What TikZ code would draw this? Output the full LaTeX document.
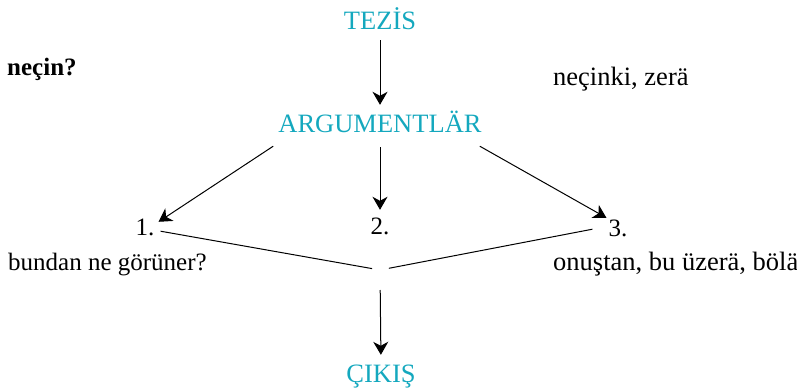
\documentclass[tikz,border=0pt]{standalone}
\usepackage{fontspec}
\setmainfont{Liberation Serif}
\usetikzlibrary{arrows.meta}
\definecolor{tealblue}{RGB}{20,168,190}

\begin{document}
\begin{tikzpicture}[
    x=1pt, y=-1pt,
    every node/.style={inner sep=0pt, text height=17pt, text depth=0pt,
        font=\fontsize{25}{30}\selectfont},
    head/.style={text=tealblue, anchor=base, font=\fontsize{26.5}{32}\selectfont},
    num/.style={anchor=base},
    note/.style={anchor=base west},
    arrow/.style={-{Stealth[length=13pt, width=15pt, inset=4pt]}, line width=1pt},
    link/.style={line width=1pt}
]
\useasboundingbox (0,0) rectangle (797,388);
\node[head] (tezis) at (380,29) {TEZİS};
\node[head] (arg) at (380,132) {ARGUMENTLÄR};
\node[num] (one) at (145,235) {1.};
\node[num] (two) at (380,234) {2.};
\node[num] (three) at (618,236) {3.};
\node[head] (cikis) at (381,382) {ÇIKIŞ};
\node[note, font=\fontsize{25}{30}\selectfont\bfseries] (why) at (7,75) {neçin?};
\node[note, font=\fontsize{26.5}{32}\selectfont] (because) at (553,85) {neçinki, zerä};
\node[note] (seen) at (8,270) {bundan ne görüner?};
\node[note, font=\fontsize{26.5}{32}\selectfont] (hence) at (553,270) {onuştan, bu üzerä, bölä};
\coordinate (join) at (380,270);
\draw[arrow, shorten <=11pt, shorten >=10pt] (tezis.south) -- (arg.north);
\draw[arrow, shorten <=15pt, shorten >=7pt] (arg.south) -- (two.north);
\draw[arrow] ([shift={(-5,14)}]arg.south west) -- ([shift={(4,4)}]one.north east);
\draw[arrow] ([shift={(-2,14)}]arg.south east) -- ([shift={(-2,-1)}]three.north west);
\draw[link, shorten >=8pt] ([shift={(6,-4)}]one.south east) -- (join);
\draw[link, shorten >=9pt] ([shift={(-16,-7)}]three.south west) -- (join);
\draw[arrow, shorten <=20pt, shorten >=10pt] (join) -- (cikis.north);
\end{tikzpicture}
\end{document}
